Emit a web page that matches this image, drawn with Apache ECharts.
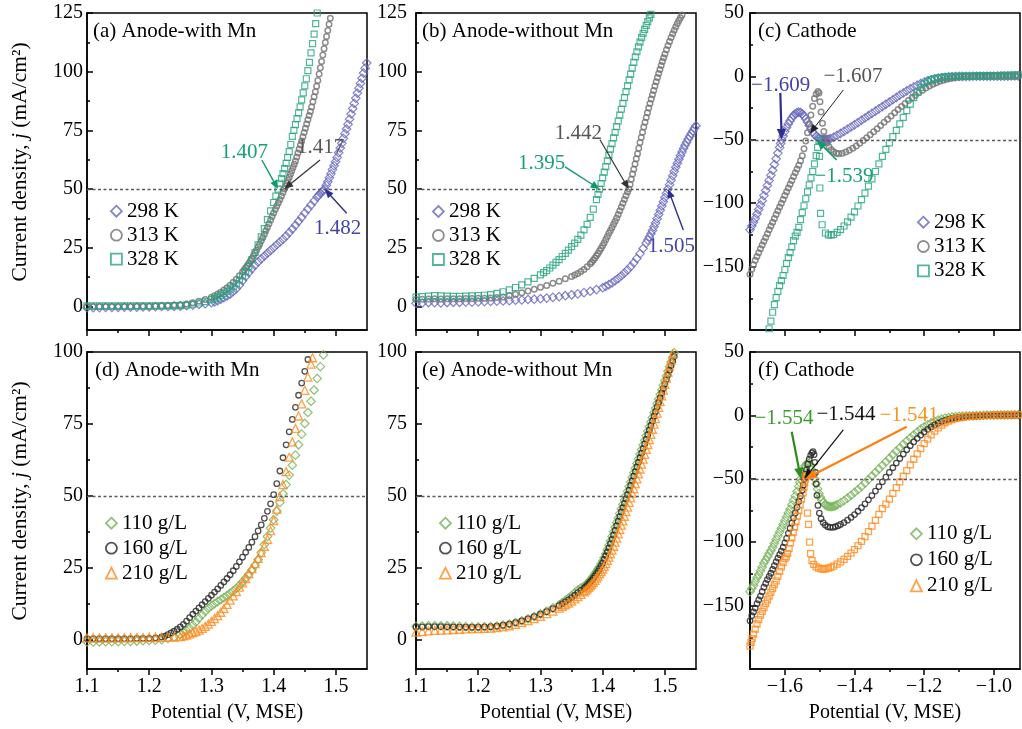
<!DOCTYPE html>
<html>
<head>
<meta charset="utf-8">
<script src="https://cdn.jsdelivr.net/npm/echarts@6/dist/echarts.min.js"></script>
<style>html,body{margin:0;padding:0;background:#fff}#chart{width:1022px;height:729px}</style>
</head>
<body>
<div id="chart"></div>
<script>
// ---------- names and tick values ----------
const PANEL_TITLES = ['(a) Anode-with Mn', '(b) Anode-without Mn', '(c) Cathode',
                      '(d) Anode-with Mn', '(e) Anode-without Mn', '(f) Cathode'];
const TEMPS = ['298 K', '313 K', '328 K'];
const CONCS = ['110 g/L', '160 g/L', '210 g/L'];

const ANODE_X_TICKS = [1.1, 1.2, 1.3, 1.4, 1.5];
const ANODE_X_MINOR = [1.15, 1.25, 1.35, 1.45];
const CATHODE_X_TICKS = [-1.6, -1.4, -1.2, -1.0];
const CATHODE_X_MINOR = [-1.5, -1.3, -1.1];
const TOP_Y_TICKS = [0, 25, 50, 75, 100, 125];
const TOP_Y_MINOR = [12.5, 37.5, 62.5, 87.5, 112.5];
const BOTTOM_Y_TICKS = [0, 25, 50, 75, 100];
const BOTTOM_Y_MINOR = [12.5, 37.5, 62.5, 87.5];
const CATHODE_Y_TICKS = [-150, -100, -50, 0, 50];
const CATHODE_Y_MINOR = [-175, -125, -75, -25, 25];

// ---------- polarization data: [potential (V, MSE), current density (mA/cm2)] ----------
// (a) anode with Mn, temperature series
const a298 = [[1.10,-0.5],[1.11,-0.5],[1.12,-0.5],[1.13,-0.4],[1.14,-0.4],[1.15,-0.4],[1.16,-0.3],[1.17,-0.3],[1.18,-0.3],[1.19,-0.2],[1.20,-0.2],[1.21,-0.1],[1.22,0],[1.23,0],[1.24,0.1],[1.25,0.2],[1.26,0.4],[1.27,0.6],[1.28,0.9],[1.29,1.2],[1.30,1.6],[1.305,2.0],[1.31,2.5],[1.315,3.1],[1.32,3.8],[1.325,4.5],[1.33,5.3],[1.335,6.4],[1.34,7.6],[1.345,9.2],[1.35,11],[1.355,12.8],[1.36,14.5],[1.365,16.1],[1.37,17.6],[1.375,19],[1.38,20.3],[1.385,21.5],[1.39,22.7],[1.395,23.9],[1.40,25.1],[1.405,26.3],[1.41,27.5],[1.415,28.7],[1.42,30],[1.425,31.5],[1.43,33],[1.435,34.6],[1.44,36.3],[1.445,38],[1.45,39.8],[1.455,41.5],[1.46,43.2],[1.465,44.9],[1.47,46.6],[1.4725,47.4],[1.475,48.2],[1.4775,48.9],[1.48,49.5],[1.482,50],[1.4845,51.6],[1.487,53.1],[1.4895,54.8],[1.492,56.5],[1.4945,58.3],[1.497,60],[1.4995,61.7],[1.502,63.5],[1.5045,65.5],[1.507,67.5],[1.5095,69.5],[1.512,71.6],[1.5145,73.6],[1.517,75.6],[1.5195,77.6],[1.522,79.8],[1.5245,82],[1.527,84.3],[1.5295,86.5],[1.532,88.7],[1.5345,90.9],[1.537,93],[1.5395,95],[1.542,97.2],[1.5445,99.4],[1.547,101.5],[1.5495,103.7]];
const a313 = [[1.10,0],[1.11,0],[1.12,0],[1.13,0],[1.14,0],[1.15,0],[1.16,0],[1.17,0],[1.18,0.1],[1.19,0.1],[1.20,0.1],[1.21,0.2],[1.22,0.3],[1.23,0.4],[1.24,0.6],[1.25,0.8],[1.26,1.1],[1.27,1.6],[1.28,2.2],[1.29,3.0],[1.30,4.0],[1.305,4.6],[1.31,5.3],[1.315,6.1],[1.32,7.0],[1.325,8.0],[1.33,9.1],[1.335,10.3],[1.34,11.6],[1.345,13.1],[1.35,14.7],[1.3525,15.6],[1.355,16.5],[1.3575,17.4],[1.36,18.4],[1.3625,19.4],[1.365,20.5],[1.3675,21.6],[1.37,22.8],[1.3725,24],[1.375,25.3],[1.3775,26.6],[1.38,28],[1.3825,29.4],[1.385,30.8],[1.3875,32.3],[1.39,33.8],[1.3925,35.3],[1.395,36.8],[1.3975,38.3],[1.40,39.8],[1.4025,41.3],[1.405,42.8],[1.4075,44.2],[1.41,45.6],[1.4125,47.1],[1.415,48.6],[1.417,50],[1.419,51.2],[1.421,52.5],[1.423,53.8],[1.425,55],[1.427,56.4],[1.429,57.8],[1.431,59.2],[1.433,60.6],[1.435,62],[1.437,63.7],[1.439,65.4],[1.441,67.1],[1.443,68.8],[1.445,70.5],[1.447,72.3],[1.449,74.1],[1.451,75.9],[1.453,77.7],[1.455,79.5],[1.457,81.3],[1.459,83.1],[1.461,85],[1.463,87.2],[1.465,89.3],[1.467,91.5],[1.469,93.8],[1.471,96.3],[1.473,99],[1.475,101.7],[1.477,104.3],[1.479,107.1],[1.481,109.8],[1.483,112.4],[1.485,115],[1.487,117.6],[1.489,120.2],[1.491,122.8],[1.493,125.4]];
const a328 = [[1.10,0.3],[1.11,0.3],[1.12,0.3],[1.13,0.3],[1.14,0.3],[1.15,0.3],[1.16,0.3],[1.17,0.3],[1.18,0.3],[1.19,0.3],[1.20,0.3],[1.21,0.3],[1.22,0.3],[1.23,0.3],[1.24,0.4],[1.25,0.4],[1.26,0.6],[1.27,1.0],[1.28,1.5],[1.29,2.1],[1.30,2.9],[1.305,3.4],[1.31,4.0],[1.315,4.7],[1.32,5.5],[1.325,6.4],[1.33,7.4],[1.335,8.5],[1.34,9.8],[1.345,11.3],[1.35,13],[1.355,14.9],[1.36,17],[1.365,20],[1.37,23],[1.375,26.3],[1.38,29.7],[1.385,33.2],[1.39,37],[1.395,40.7],[1.40,44.3],[1.4035,47],[1.407,50],[1.41,52.5],[1.4125,54.5],[1.415,56.6],[1.4175,58.7],[1.42,61],[1.4225,63.5],[1.425,66],[1.4275,69],[1.43,72.5],[1.4325,75],[1.435,77.5],[1.4375,80],[1.44,82.5],[1.4425,85],[1.445,88],[1.4475,91],[1.45,94],[1.4525,97],[1.455,100.5],[1.4575,104],[1.46,108],[1.4625,112],[1.465,116],[1.4675,120.5],[1.47,125]];
// (b) anode without Mn, temperature series
const b298 = [[1.10,1.4],[1.11,1.5],[1.12,1.7],[1.13,1.6],[1.14,1.5],[1.15,1.7],[1.16,1.8],[1.17,1.8],[1.18,1.9],[1.19,1.9],[1.20,2.0],[1.21,2.1],[1.22,2.2],[1.23,2.3],[1.24,2.4],[1.25,2.5],[1.26,2.7],[1.27,2.8],[1.28,3.0],[1.29,3.1],[1.30,3.3],[1.31,3.6],[1.32,3.9],[1.33,4.2],[1.34,4.6],[1.35,5.0],[1.36,5.4],[1.37,5.9],[1.38,6.5],[1.39,7.2],[1.40,8.0],[1.405,8.6],[1.41,9.3],[1.415,10.1],[1.42,11],[1.425,12],[1.43,13.1],[1.435,14.3],[1.44,15.6],[1.445,17],[1.45,18.6],[1.455,20.5],[1.46,22.5],[1.465,24.7],[1.47,27],[1.4725,28.3],[1.475,29.6],[1.4775,31],[1.48,32.4],[1.4825,34],[1.485,35.6],[1.4875,37.4],[1.49,39.2],[1.4925,41],[1.495,42.8],[1.4975,44.6],[1.50,46.4],[1.5025,48.2],[1.505,50],[1.5075,51.9],[1.51,53.8],[1.5125,55.7],[1.515,57.5],[1.5175,59.3],[1.52,61],[1.5225,62.7],[1.525,64.3],[1.5275,65.8],[1.53,67.3],[1.5325,68.7],[1.535,70],[1.5375,71.3],[1.54,72.5],[1.5425,73.7],[1.545,74.8],[1.5475,75.9],[1.55,77]];
const b313 = [[1.10,3.0],[1.11,3.1],[1.12,3.2],[1.13,3.3],[1.14,3.2],[1.15,3.3],[1.16,3.3],[1.17,3.3],[1.18,3.4],[1.19,3.4],[1.20,3.5],[1.21,3.5],[1.22,3.6],[1.23,3.8],[1.24,4.1],[1.25,4.6],[1.26,5.2],[1.27,5.9],[1.28,6.6],[1.29,7.4],[1.30,8.2],[1.31,9.0],[1.32,9.9],[1.33,10.8],[1.34,11.8],[1.35,12.8],[1.355,13.4],[1.36,14.1],[1.365,14.9],[1.37,15.8],[1.375,16.9],[1.38,18.2],[1.3825,19],[1.385,19.8],[1.3875,20.7],[1.39,21.6],[1.3925,22.6],[1.395,23.7],[1.3975,24.8],[1.40,26],[1.4025,27.2],[1.405,28.5],[1.4075,29.8],[1.41,31.2],[1.4125,32.4],[1.415,33.7],[1.4175,35],[1.42,36.3],[1.4225,37.7],[1.425,39.2],[1.4275,40.8],[1.43,42.4],[1.4325,44],[1.435,45.6],[1.4375,47.2],[1.44,48.8],[1.442,50],[1.444,52],[1.446,54.2],[1.448,56.4],[1.45,58.5],[1.452,60.7],[1.454,62.9],[1.456,65.1],[1.458,67.4],[1.46,69.8],[1.462,72],[1.464,74.2],[1.466,76.4],[1.468,78.5],[1.47,80.5],[1.472,82.5],[1.474,84.5],[1.476,86.5],[1.478,88.4],[1.48,90.2],[1.482,92],[1.484,93.9],[1.486,95.7],[1.488,97.5],[1.49,99.2],[1.492,100.9],[1.494,102.6],[1.496,104.3],[1.498,105.9],[1.50,107.5],[1.5025,109.4],[1.505,111.2],[1.5075,112.9],[1.51,114.6],[1.5125,116.2],[1.515,117.7],[1.5175,119.1],[1.52,120.5],[1.5225,121.8],[1.525,123],[1.5275,124.2],[1.53,125.3]];
const b328 = [[1.10,4.0],[1.11,4.2],[1.12,4.4],[1.13,4.6],[1.14,4.5],[1.15,4.4],[1.16,4.3],[1.17,4.3],[1.18,4.4],[1.19,4.5],[1.20,4.6],[1.21,4.8],[1.22,5.1],[1.23,5.6],[1.24,6.3],[1.25,7.1],[1.26,8.1],[1.27,9.2],[1.28,10.5],[1.29,12],[1.30,13.5],[1.305,14.4],[1.31,15.3],[1.315,16.4],[1.32,17.6],[1.325,18.8],[1.33,20],[1.335,21.3],[1.34,22.6],[1.345,24],[1.35,25.5],[1.355,27],[1.36,28.6],[1.365,30.4],[1.37,32.6],[1.375,35],[1.38,38],[1.385,41.5],[1.39,45.5],[1.3925,47.7],[1.395,50],[1.3975,52.4],[1.40,54.8],[1.4025,57.2],[1.405,59.6],[1.4075,62],[1.41,64.5],[1.4125,67],[1.415,69.4],[1.4175,71.8],[1.42,74.2],[1.4225,76.6],[1.425,79],[1.4275,81.5],[1.43,84],[1.4325,86.5],[1.435,89],[1.4375,91.5],[1.44,94],[1.4425,96.5],[1.445,99],[1.4475,101.5],[1.45,104],[1.4525,106.3],[1.455,108.5],[1.4575,110.6],[1.46,112.6],[1.4625,114.5],[1.465,116.3],[1.4675,118],[1.47,119.7],[1.4725,121.3],[1.475,122.9],[1.4775,124.4],[1.48,126]];
// (c) cathode, temperature series
const c298 = [[-1.70,-121],[-1.695,-118],[-1.69,-115],[-1.685,-112],[-1.68,-108.5],[-1.675,-105],[-1.67,-101.5],[-1.665,-98],[-1.66,-94],[-1.655,-90],[-1.65,-86],[-1.645,-82],[-1.64,-78],[-1.635,-74],[-1.63,-69.5],[-1.625,-65],[-1.62,-60.5],[-1.615,-56],[-1.612,-53],[-1.609,-50],[-1.605,-47],[-1.60,-43.5],[-1.595,-40.3],[-1.59,-37.5],[-1.585,-35],[-1.58,-32.8],[-1.575,-30.8],[-1.57,-29.5],[-1.565,-28.6],[-1.56,-28.2],[-1.555,-28.5],[-1.55,-29.5],[-1.545,-31.2],[-1.54,-33.5],[-1.535,-36],[-1.53,-38.8],[-1.525,-41.5],[-1.52,-43.8],[-1.515,-45.7],[-1.51,-47.2],[-1.505,-48.3],[-1.50,-49.1],[-1.495,-49.6],[-1.49,-49.9],[-1.485,-50],[-1.48,-49.9],[-1.475,-49.6],[-1.47,-49.2],[-1.46,-48],[-1.45,-46.5],[-1.44,-45],[-1.43,-43.3],[-1.42,-41.6],[-1.41,-39.9],[-1.40,-38.2],[-1.39,-36.4],[-1.38,-34.6],[-1.37,-32.8],[-1.36,-31],[-1.35,-29.2],[-1.34,-27.4],[-1.33,-25.6],[-1.32,-23.8],[-1.31,-22],[-1.30,-20.2],[-1.29,-18.4],[-1.28,-16.6],[-1.27,-14.8],[-1.26,-13.1],[-1.25,-11.4],[-1.24,-9.8],[-1.23,-8.3],[-1.22,-6.9],[-1.21,-5.6],[-1.20,-4.5],[-1.19,-3.5],[-1.18,-2.7],[-1.17,-2],[-1.16,-1.4],[-1.15,-1],[-1.14,-0.7],[-1.13,-0.4],[-1.12,-0.2],[-1.11,-0.1],[-1.10,0],[-1.09,0],[-1.08,0],[-1.07,0],[-1.06,0.1],[-1.05,0.1],[-1.04,0.1],[-1.03,0.1],[-1.02,0.1],[-1.01,0.2],[-1.00,0.2],[-0.99,0.2],[-0.98,0.2],[-0.97,0.2],[-0.96,0.2],[-0.95,0.3],[-0.94,0.3],[-0.93,0.3]];
const c313 = [[-1.70,-156],[-1.695,-152],[-1.69,-148.5],[-1.685,-145],[-1.68,-142],[-1.675,-139],[-1.67,-136],[-1.665,-133],[-1.66,-130],[-1.655,-127],[-1.65,-124],[-1.645,-121],[-1.64,-118],[-1.635,-115],[-1.63,-112],[-1.625,-109],[-1.62,-106],[-1.615,-103],[-1.61,-100],[-1.605,-97],[-1.60,-94],[-1.595,-91],[-1.59,-88],[-1.585,-85],[-1.58,-82],[-1.575,-79],[-1.57,-76],[-1.565,-73],[-1.56,-70],[-1.555,-66.5],[-1.55,-62.5],[-1.545,-57],[-1.54,-51],[-1.535,-44.5],[-1.53,-37.5],[-1.525,-30.5],[-1.52,-23.5],[-1.515,-17.5],[-1.51,-13.8],[-1.505,-12],[-1.502,-13],[-1.499,-20],[-1.496,-28],[-1.492,-37],[-1.488,-43.5],[-1.484,-48.5],[-1.479,-52.5],[-1.473,-55.5],[-1.467,-57.8],[-1.46,-59.5],[-1.452,-60.6],[-1.445,-61],[-1.435,-60.6],[-1.425,-59.6],[-1.415,-58.2],[-1.405,-56.6],[-1.395,-54.8],[-1.385,-52.8],[-1.375,-50.6],[-1.365,-48.3],[-1.355,-46],[-1.345,-43.6],[-1.335,-41.2],[-1.325,-38.7],[-1.315,-36.2],[-1.305,-33.7],[-1.295,-31.2],[-1.285,-28.7],[-1.275,-26.2],[-1.265,-23.8],[-1.255,-21.4],[-1.245,-19.1],[-1.235,-16.9],[-1.225,-14.8],[-1.215,-12.8],[-1.205,-10.9],[-1.195,-9.2],[-1.185,-7.6],[-1.175,-6.2],[-1.165,-5],[-1.155,-3.9],[-1.145,-3],[-1.135,-2.2],[-1.125,-1.6],[-1.115,-1.1],[-1.105,-0.7],[-1.095,-0.4],[-1.085,-0.2],[-1.075,0],[-1.065,0],[-1.055,0.1],[-1.045,0.1],[-1.035,0.1],[-1.025,0.1],[-1.015,0.1],[-1.005,0.2],[-0.995,0.2],[-0.985,0.2],[-0.975,0.2],[-0.965,0.2],[-0.955,0.2],[-0.945,0.2],[-0.935,0.2]];
const c328 = [[-1.65,-205],[-1.645,-199],[-1.64,-193],[-1.635,-186],[-1.63,-180],[-1.625,-174.5],[-1.62,-169.5],[-1.615,-165],[-1.61,-161],[-1.605,-157],[-1.60,-152.5],[-1.595,-147.5],[-1.59,-143],[-1.585,-139],[-1.58,-134.5],[-1.575,-129.5],[-1.57,-126],[-1.565,-123],[-1.56,-119],[-1.555,-113],[-1.55,-107.5],[-1.545,-102],[-1.54,-96.5],[-1.535,-91],[-1.53,-85.5],[-1.525,-80],[-1.52,-75],[-1.515,-69],[-1.51,-62.5],[-1.506,-56],[-1.502,-50.5],[-1.5005,-63],[-1.4995,-88],[-1.4975,-108],[-1.493,-117],[-1.4835,-123.5],[-1.475,-125],[-1.467,-125.2],[-1.46,-124.7],[-1.45,-123],[-1.44,-120.8],[-1.43,-118],[-1.42,-114.8],[-1.41,-111],[-1.40,-106.8],[-1.39,-102.2],[-1.38,-97.2],[-1.37,-92],[-1.36,-86.5],[-1.35,-80.8],[-1.34,-75],[-1.33,-69],[-1.32,-63],[-1.31,-57.5],[-1.30,-52.5],[-1.29,-47.5],[-1.28,-42.5],[-1.27,-37.5],[-1.26,-32.3],[-1.25,-27],[-1.24,-21.8],[-1.23,-16.8],[-1.22,-12.3],[-1.21,-8.6],[-1.20,-5.8],[-1.19,-3.9],[-1.18,-2.6],[-1.17,-1.7],[-1.16,-1.1],[-1.15,-0.7],[-1.14,-0.4],[-1.13,-0.2],[-1.12,0],[-1.11,0.1],[-1.10,0.1],[-1.09,0.2],[-1.08,0.2],[-1.07,0.3],[-1.06,0.3],[-1.05,0.4],[-1.04,0.4],[-1.03,0.5],[-1.02,0.5],[-1.01,0.6],[-1.00,0.6],[-0.99,0.7],[-0.98,0.8],[-0.97,0.8],[-0.96,0.9],[-0.95,1],[-0.94,1.1],[-0.93,1.2]];
// (d) anode with Mn, Zn2+ concentration series
const d110 = [[1.10,-0.6],[1.11,-0.6],[1.12,-0.6],[1.13,-0.5],[1.14,-0.5],[1.15,-0.5],[1.16,-0.4],[1.17,-0.4],[1.18,-0.3],[1.19,-0.2],[1.20,-0.1],[1.21,0],[1.22,0.2],[1.23,0.6],[1.24,1.1],[1.25,2],[1.255,2.7],[1.26,3.3],[1.265,4.2],[1.27,5.2],[1.275,6.3],[1.28,7.6],[1.285,8.8],[1.29,10],[1.295,11],[1.30,11.9],[1.305,12.7],[1.31,13.4],[1.315,14.1],[1.32,14.8],[1.325,15.5],[1.33,16.3],[1.335,17.1],[1.34,18],[1.345,19],[1.35,20.2],[1.355,21.5],[1.36,22.9],[1.365,24.4],[1.37,26],[1.375,28],[1.38,30.4],[1.385,33.2],[1.39,36],[1.395,38.9],[1.40,41.8],[1.405,44.8],[1.41,47.8],[1.415,50.8],[1.42,54],[1.425,57.3],[1.43,60.7],[1.435,64.2],[1.44,67.8],[1.445,71.5],[1.45,75.2],[1.455,79],[1.46,82.9],[1.465,86.8],[1.47,90.8],[1.475,94.9],[1.48,99],[1.485,103]];
const d160 = [[1.10,0.5],[1.11,0.5],[1.12,0.5],[1.13,0.5],[1.14,0.5],[1.15,0.5],[1.16,0.5],[1.17,0.5],[1.18,0.6],[1.19,0.6],[1.20,0.6],[1.21,0.8],[1.22,1.1],[1.225,1.4],[1.23,1.9],[1.235,2.5],[1.24,3.1],[1.245,3.8],[1.25,4.6],[1.255,5.5],[1.26,6.6],[1.265,7.8],[1.27,9],[1.275,10.1],[1.28,11.2],[1.285,12.3],[1.29,13.4],[1.295,14.5],[1.30,15.6],[1.305,16.7],[1.31,17.8],[1.315,19],[1.32,20.2],[1.325,21.4],[1.33,22.7],[1.335,24.1],[1.34,25.6],[1.345,27.2],[1.35,28.8],[1.355,30.5],[1.36,32.2],[1.365,34],[1.37,35.9],[1.375,37.9],[1.38,40],[1.385,42.3],[1.39,44.7],[1.395,47.3],[1.40,50.5],[1.405,54.3],[1.41,58.7],[1.415,63.3],[1.42,67.8],[1.425,72.3],[1.43,76.6],[1.435,80.8],[1.44,85],[1.445,89.2],[1.45,93.3],[1.455,97.4],[1.46,101.5]];
const d210 = [[1.10,0.8],[1.11,0.8],[1.12,0.8],[1.13,0.8],[1.14,0.8],[1.15,0.8],[1.16,0.9],[1.17,0.9],[1.18,0.9],[1.19,0.9],[1.20,1.0],[1.21,1.0],[1.22,1.0],[1.23,1.1],[1.24,1.1],[1.25,1.2],[1.255,1.5],[1.26,1.8],[1.265,2.2],[1.27,2.6],[1.275,3.0],[1.28,3.5],[1.285,4.1],[1.29,4.8],[1.295,5.6],[1.30,6.5],[1.305,7.5],[1.31,8.5],[1.315,9.7],[1.32,11],[1.325,12.4],[1.33,13.9],[1.335,15.4],[1.34,16.9],[1.345,18.4],[1.35,19.9],[1.355,21.4],[1.36,23],[1.365,24.8],[1.37,26.6],[1.375,28.4],[1.38,30.4],[1.385,32.6],[1.39,35],[1.395,38],[1.40,41.5],[1.405,45.5],[1.41,49.8],[1.415,54],[1.42,58.5],[1.425,63.5],[1.43,68.8],[1.435,73.5],[1.44,77.8],[1.445,82],[1.45,86.7],[1.455,91.3],[1.46,95.8],[1.4625,98]];
// (e) anode without Mn, Zn2+ concentration series
const e110 = [[1.10,4.8],[1.11,4.9],[1.12,5.0],[1.13,5.0],[1.14,5.0],[1.15,5.0],[1.16,4.9],[1.17,4.8],[1.18,4.7],[1.19,4.6],[1.20,4.6],[1.21,4.6],[1.22,4.7],[1.23,4.9],[1.24,5.2],[1.25,5.6],[1.26,6.1],[1.27,6.7],[1.28,7.4],[1.29,8.2],[1.30,9.1],[1.31,10.1],[1.32,11.2],[1.33,12.3],[1.335,13],[1.34,13.8],[1.345,14.6],[1.35,15.5],[1.355,16.4],[1.36,17.4],[1.365,18.1],[1.37,18.6],[1.3725,19.1],[1.375,19.6],[1.3775,20.2],[1.38,20.8],[1.3825,21.5],[1.385,22.2],[1.3875,23],[1.39,23.8],[1.3925,24.7],[1.395,25.5],[1.3975,26.5],[1.40,27.5],[1.4025,28.7],[1.405,30],[1.4075,31.4],[1.41,32.9],[1.4125,34.4],[1.415,36],[1.4175,37.6],[1.42,39.2],[1.4225,40.8],[1.425,42.4],[1.4275,44],[1.43,45.6],[1.4325,47.1],[1.435,48.6],[1.4375,50.1],[1.44,51.7],[1.4425,53.3],[1.445,54.9],[1.4475,56.5],[1.45,58.1],[1.4525,59.7],[1.455,61.3],[1.4575,62.9],[1.46,64.5],[1.4625,66.1],[1.465,67.7],[1.4675,69.3],[1.47,70.9],[1.4725,72.5],[1.475,74.1],[1.4775,75.7],[1.48,77.3],[1.4825,78.9],[1.485,80.5],[1.4875,82.1],[1.49,83.7],[1.4925,85.3],[1.495,86.9],[1.4975,88.5],[1.50,90.1],[1.5025,91.7],[1.505,93.3],[1.5075,94.9],[1.51,96.5],[1.5125,98.1],[1.515,99.7],[1.5175,101.3]];
const e160 = [[1.10,4.5],[1.11,4.6],[1.12,4.7],[1.13,4.7],[1.14,4.7],[1.15,4.6],[1.16,4.6],[1.17,4.5],[1.18,4.5],[1.19,4.5],[1.20,4.5],[1.21,4.6],[1.22,4.7],[1.23,4.9],[1.24,5.2],[1.25,5.6],[1.26,6.1],[1.27,6.7],[1.28,7.4],[1.29,8.2],[1.30,9.0],[1.31,9.9],[1.32,10.9],[1.33,12],[1.335,12.6],[1.34,13.3],[1.345,14],[1.35,14.8],[1.355,15.6],[1.36,16.5],[1.365,17.3],[1.37,18],[1.3725,18.5],[1.375,19],[1.3775,19.6],[1.38,20.2],[1.3825,20.8],[1.385,21.5],[1.3875,22.3],[1.39,23.1],[1.3925,23.9],[1.395,24.8],[1.3975,25.8],[1.40,26.8],[1.4025,28],[1.405,29.3],[1.4075,30.6],[1.41,32],[1.4125,33.5],[1.415,35],[1.4175,36.5],[1.42,38.1],[1.4225,39.7],[1.425,41.3],[1.4275,42.9],[1.43,44.5],[1.4325,46],[1.435,47.5],[1.4375,49],[1.44,50.5],[1.4425,52.1],[1.445,53.7],[1.4475,55.3],[1.45,56.9],[1.4525,58.5],[1.455,60.1],[1.4575,61.7],[1.46,63.3],[1.4625,64.9],[1.465,66.5],[1.4675,68.1],[1.47,69.7],[1.4725,71.3],[1.475,72.9],[1.4775,74.5],[1.48,76.1],[1.4825,77.7],[1.485,79.3],[1.4875,80.9],[1.49,82.5],[1.4925,84.1],[1.495,85.7],[1.4975,87.3],[1.50,88.9],[1.5025,90.5],[1.505,92.1],[1.5075,93.7],[1.51,95.3],[1.5125,96.9],[1.515,98.5],[1.5175,100.1],[1.52,101.7]];
const e210 = [[1.10,2.8],[1.11,3.0],[1.12,3.2],[1.13,3.4],[1.14,3.5],[1.15,3.6],[1.16,3.7],[1.17,3.8],[1.18,3.9],[1.19,4.0],[1.20,4.0],[1.21,4.1],[1.22,4.2],[1.23,4.4],[1.24,4.6],[1.25,5.0],[1.26,5.5],[1.27,6.1],[1.28,6.8],[1.29,7.5],[1.30,8.3],[1.31,9.2],[1.32,10.1],[1.33,11.1],[1.335,11.7],[1.34,12.3],[1.345,12.9],[1.35,13.6],[1.355,14.3],[1.36,15.1],[1.365,15.9],[1.37,16.8],[1.3725,17.3],[1.375,17.8],[1.3775,18.3],[1.38,18.9],[1.3825,19.5],[1.385,20.1],[1.3875,20.8],[1.39,21.5],[1.3925,22.2],[1.395,23],[1.3975,23.8],[1.40,24.7],[1.4025,25.6],[1.405,26.6],[1.4075,27.7],[1.41,28.8],[1.4125,30],[1.415,31.3],[1.4175,32.6],[1.42,34],[1.4225,35.4],[1.425,36.9],[1.4275,38.4],[1.43,39.9],[1.4325,41.4],[1.435,43],[1.4375,44.6],[1.44,46.2],[1.4425,47.8],[1.445,49.4],[1.4475,51],[1.45,52.6],[1.4525,54.3],[1.455,56],[1.4575,57.7],[1.46,59.4],[1.4625,61.1],[1.465,62.8],[1.4675,64.5],[1.47,66.2],[1.4725,67.9],[1.475,69.6],[1.4775,71.4],[1.48,73.2],[1.4825,75],[1.485,76.9],[1.4875,78.8],[1.49,80.8],[1.4925,82.8],[1.495,84.8],[1.4975,86.8],[1.50,88.8],[1.5025,90.9],[1.505,93],[1.5075,95.1],[1.51,97.2],[1.5125,99.3],[1.515,101.4]];
// (f) cathode, Zn2+ concentration series
const f110 = [[-1.70,-139],[-1.695,-136.5],[-1.69,-134],[-1.685,-131],[-1.68,-128],[-1.675,-125.5],[-1.67,-122.5],[-1.665,-119.5],[-1.66,-116.5],[-1.655,-114],[-1.65,-111.5],[-1.645,-109],[-1.64,-106.5],[-1.635,-104],[-1.63,-101],[-1.625,-98],[-1.62,-95],[-1.615,-92],[-1.61,-89],[-1.605,-86],[-1.60,-83],[-1.595,-80],[-1.59,-77],[-1.585,-74],[-1.58,-70.5],[-1.575,-67],[-1.57,-63.5],[-1.565,-60],[-1.56,-56],[-1.557,-53],[-1.554,-50],[-1.55,-46],[-1.546,-42.5],[-1.542,-40],[-1.538,-38.5],[-1.534,-37.5],[-1.53,-38],[-1.526,-40],[-1.522,-43],[-1.518,-46.5],[-1.514,-50],[-1.51,-54],[-1.506,-58],[-1.502,-61.5],[-1.498,-64.5],[-1.494,-67],[-1.49,-68.8],[-1.485,-70.3],[-1.48,-71.2],[-1.475,-71.8],[-1.47,-72],[-1.465,-72],[-1.46,-71.7],[-1.455,-71.2],[-1.45,-70.5],[-1.44,-69],[-1.43,-67.2],[-1.42,-65.2],[-1.41,-63],[-1.40,-60.8],[-1.39,-58.5],[-1.38,-56],[-1.37,-53.4],[-1.36,-50.6],[-1.35,-47.8],[-1.34,-45],[-1.33,-42.2],[-1.32,-39.4],[-1.31,-36.6],[-1.30,-33.8],[-1.29,-31],[-1.28,-28.2],[-1.27,-25.5],[-1.26,-22.8],[-1.25,-20.2],[-1.24,-17.7],[-1.23,-15.3],[-1.22,-13],[-1.21,-10.9],[-1.20,-9],[-1.19,-7.3],[-1.18,-5.9],[-1.17,-4.7],[-1.16,-3.7],[-1.15,-2.9],[-1.14,-2.2],[-1.13,-1.7],[-1.12,-1.3],[-1.11,-1],[-1.10,-0.8],[-1.09,-0.6],[-1.08,-0.5],[-1.07,-0.4],[-1.06,-0.3],[-1.05,-0.2],[-1.04,-0.1],[-1.03,0],[-1.02,0.1],[-1.01,0.1],[-1.00,0.2],[-0.99,0.2],[-0.98,0.3],[-0.97,0.3],[-0.96,0.4],[-0.95,0.4],[-0.94,0.5],[-0.93,0.6]];
const f160 = [[-1.70,-162],[-1.695,-158],[-1.69,-155],[-1.685,-152],[-1.68,-148.5],[-1.675,-145.5],[-1.67,-142.5],[-1.665,-139],[-1.66,-135.5],[-1.655,-132.5],[-1.65,-129.5],[-1.645,-127],[-1.64,-124.5],[-1.635,-121.5],[-1.63,-118.5],[-1.625,-115.5],[-1.62,-112.5],[-1.615,-109.8],[-1.61,-107],[-1.605,-104],[-1.60,-100.5],[-1.595,-97],[-1.59,-93],[-1.585,-89],[-1.58,-85],[-1.575,-81],[-1.57,-77],[-1.565,-72.5],[-1.56,-68],[-1.555,-63.5],[-1.55,-59],[-1.547,-55],[-1.544,-50],[-1.541,-46.5],[-1.538,-43],[-1.534,-38.5],[-1.53,-34.5],[-1.526,-31.5],[-1.522,-29.5],[-1.519,-28.5],[-1.516,-31],[-1.514,-37],[-1.512,-45],[-1.51,-54],[-1.508,-63],[-1.505,-71],[-1.501,-77],[-1.496,-81.5],[-1.49,-84.5],[-1.484,-86.5],[-1.477,-87.8],[-1.47,-88.3],[-1.462,-88.3],[-1.455,-87.8],[-1.447,-87],[-1.44,-86],[-1.43,-84.5],[-1.42,-82.6],[-1.41,-80.5],[-1.40,-78.2],[-1.39,-75.6],[-1.38,-72.8],[-1.37,-69.8],[-1.36,-66.6],[-1.35,-63.2],[-1.34,-59.7],[-1.33,-56.1],[-1.32,-52.4],[-1.31,-48.7],[-1.30,-45],[-1.29,-41.3],[-1.28,-37.6],[-1.27,-34],[-1.26,-30.5],[-1.25,-27.1],[-1.24,-23.9],[-1.23,-20.9],[-1.22,-18.1],[-1.21,-15.5],[-1.20,-13.1],[-1.19,-11],[-1.18,-9.1],[-1.17,-7.5],[-1.16,-6.1],[-1.15,-4.9],[-1.14,-3.9],[-1.13,-3.1],[-1.12,-2.5],[-1.11,-2],[-1.10,-1.6],[-1.09,-1.3],[-1.08,-1],[-1.07,-0.8],[-1.06,-0.6],[-1.05,-0.4],[-1.04,-0.3],[-1.03,-0.2],[-1.02,-0.1],[-1.01,0],[-1.00,0],[-0.99,0.1],[-0.98,0.1],[-0.97,0.1],[-0.96,0.2],[-0.95,0.2],[-0.94,0.2],[-0.93,0.3]];
const f210 = [[-1.70,-182],[-1.697,-179],[-1.694,-176],[-1.69,-172.5],[-1.685,-168.5],[-1.68,-164.5],[-1.675,-161],[-1.67,-157.5],[-1.665,-154.5],[-1.66,-151.5],[-1.655,-148.5],[-1.65,-145.5],[-1.645,-142.5],[-1.64,-139.5],[-1.635,-136.5],[-1.63,-133.5],[-1.625,-130.5],[-1.62,-127],[-1.615,-123],[-1.61,-119.5],[-1.605,-116],[-1.60,-113],[-1.596,-111.5],[-1.592,-109],[-1.588,-105],[-1.584,-100.5],[-1.58,-96.5],[-1.576,-92.5],[-1.572,-88],[-1.568,-84],[-1.564,-79.5],[-1.56,-75],[-1.556,-70.5],[-1.552,-66],[-1.548,-61],[-1.545,-56.5],[-1.543,-53],[-1.541,-50],[-1.539,-48],[-1.537,-47.5],[-1.535,-77],[-1.532,-86],[-1.529,-100],[-1.526,-109],[-1.522,-114.5],[-1.517,-117.5],[-1.51,-119.5],[-1.503,-120.5],[-1.496,-121],[-1.489,-121.2],[-1.482,-121],[-1.475,-120.5],[-1.468,-119.8],[-1.46,-118.8],[-1.45,-117.3],[-1.44,-115.5],[-1.43,-113.5],[-1.42,-111.2],[-1.41,-108.6],[-1.40,-105.8],[-1.39,-102.7],[-1.38,-99.3],[-1.37,-95.6],[-1.36,-91.6],[-1.35,-87.3],[-1.34,-82.8],[-1.33,-78.1],[-1.32,-73.5],[-1.31,-70],[-1.30,-66],[-1.29,-61.5],[-1.28,-57],[-1.27,-52.5],[-1.26,-48],[-1.25,-43.5],[-1.24,-39],[-1.23,-34.6],[-1.22,-30.3],[-1.21,-26.2],[-1.20,-22.3],[-1.19,-18.7],[-1.18,-15.4],[-1.17,-12.4],[-1.16,-9.8],[-1.15,-7.6],[-1.14,-5.8],[-1.13,-4.4],[-1.12,-3.3],[-1.11,-2.5],[-1.10,-1.9],[-1.09,-1.4],[-1.08,-1],[-1.07,-0.7],[-1.06,-0.5],[-1.05,-0.3],[-1.04,-0.2],[-1.03,-0.1],[-1.02,0],[-1.01,0],[-1.00,0.1],[-0.99,0.1],[-0.98,0.2],[-0.97,0.2],[-0.96,0.3],[-0.95,0.3],[-0.94,0.4],[-0.93,0.5]];

// ---------- styling ----------
const FONT = '"Liberation Serif","Times New Roman",Times,serif';
const INK = '#000';
const MARKERS = {
  '298 K':   {symbol: 'diamond',  size: 8.5, color: '#6767bd', line: 1.2},
  '313 K':   {symbol: 'circle',   size: 5.5, color: '#727272', line: 1.5},
  '328 K':   {symbol: 'rect',     size: 6,   color: '#25a57d', line: 1.2},
  '110 g/L': {symbol: 'diamond',  size: 8.5, color: '#76b257', line: 1.2},
  '160 g/L': {symbol: 'circle',   size: 5.5, color: '#262626', line: 1.3},
  '210 g/L': {symbol: 'triangle', size: 8,   color: '#ff8a1c', line: 1.3}
};
const minus = s => String(s).replace('-', '\u2212');

const X_SCALES = {
  anode:   {min: 1.1,  max: 1.55,   major: ANODE_X_TICKS,   minor: ANODE_X_MINOR,   fmt: v => v.toFixed(1)},
  cathode: {min: -1.7, max: -0.925, major: CATHODE_X_TICKS, minor: CATHODE_X_MINOR, fmt: v => minus(v.toFixed(1))}
};
const Y_SCALES = {
  top:     {min: -10,  max: 125, major: TOP_Y_TICKS,     minor: TOP_Y_MINOR,     ref: 50,  fmt: v => String(v)},
  bottom:  {min: -10,  max: 100, major: BOTTOM_Y_TICKS,  minor: BOTTOM_Y_MINOR,  ref: 50,  fmt: v => String(v)},
  cathode: {min: -200, max: 50,  major: CATHODE_Y_TICKS, minor: CATHODE_Y_MINOR, ref: -50, fmt: v => minus(v)}
};

const PANELS = [
  {grid: {left: 87,  top: 13,  width: 280, height: 317}, x: 'anode',   y: 'top',     names: TEMPS, data: [a298, a313, a328], labelMargin: 4, titleDx: 6},
  {grid: {left: 416, top: 13,  width: 280, height: 317}, x: 'anode',   y: 'top',     names: TEMPS, data: [b298, b313, b328], labelMargin: 9, titleDx: 6},
  {grid: {left: 750, top: 13,  width: 270, height: 317}, x: 'cathode', y: 'cathode', names: TEMPS, data: [c298, c313, c328], labelMargin: 6, titleDx: 8},
  {grid: {left: 87,  top: 352, width: 280, height: 317}, x: 'anode',   y: 'bottom',  names: CONCS, data: [d110, d160, d210], labelMargin: 4, titleDx: 8},
  {grid: {left: 416, top: 352, width: 280, height: 317}, x: 'anode',   y: 'bottom',  names: CONCS, data: [e110, e160, e210], labelMargin: 9, titleDx: 6},
  {grid: {left: 750, top: 352, width: 270, height: 317}, x: 'cathode', y: 'cathode', names: CONCS, data: [f110, f160, f210], labelMargin: 6, titleDx: 8,
   symbolOverride: {'210 g/L': {symbol: 'rect', size: 6}}}
];

// legend boxes: left edge of the icon, centre of the first row, row pitch
const LEGEND_SPOTS = [
  {left: 110, top: 210.7, pitch: 23},
  {left: 432, top: 211,   pitch: 23},
  {left: 917, top: 221.7, pitch: 23.3},
  {left: 105, top: 522.7, pitch: 24},
  {left: 439, top: 522.7, pitch: 24},
  {left: 910, top: 533.3, pitch: 25}
];

// arrowed call-outs, all placed in data coordinates of their panel
const NOTES = [
  {panel: 0, text: '1.407', color: '#16a077', arrow: '#0e9a6c', label: [1.353, 65.4],  tail: [1.381, 62.4],  tip: [1.407, 50], lw: 1.4, head: 9},
  {panel: 0, text: '1.417', color: '#555555', arrow: '#333333', label: [1.4753, 67.9], tail: [1.4745, 62.4], tip: [1.417, 50], lw: 1.2, head: 9},
  {panel: 0, text: '1.482', color: '#4444a6', arrow: '#2f2f8f', label: [1.5026, 33.4], tail: [1.5174, 39.7], tip: [1.482, 50], lw: 1.4, head: 9},
  {panel: 1, text: '1.442', color: '#555555', arrow: '#333333', label: [1.3608, 73.8], tail: [1.3957, 71],   tip: [1.442, 50], lw: 1.2, head: 9},
  {panel: 1, text: '1.395', color: '#16a077', arrow: '#0e9a6c', label: [1.3017, 61],   tail: [1.3395, 59.5], tip: [1.395, 50], lw: 1.4, head: 9},
  {panel: 1, text: '1.505', color: '#4444a6', arrow: '#2f2f8f', label: [1.5106, 25.5], tail: [1.5296, 32.6], tip: [1.505, 50], lw: 1.4, head: 9},
  {panel: 2, text: '\u22121.609', color: '#4444a6', arrow: '#2f2f8f', label: [-1.612, -7],     tail: [-1.613, -13],    tip: [-1.609, -50],    lw: 2.2, head: 11},
  {panel: 2, text: '\u22121.607', color: '#555555', arrow: '#222222', label: [-1.4044, -0.2],  tail: [-1.4322, -10.7], tip: [-1.5278, -44.9], lw: 1,   head: 9},
  {panel: 2, text: '\u22121.539', color: '#16a077', arrow: '#0e9a6c', label: [-1.4302, -79.1], tail: [-1.4512, -65.9], tip: [-1.5086, -50.2], lw: 1.6, head: 10},
  {panel: 5, text: '\u22121.554', color: '#3a9a2c', arrow: '#2e8b1e', label: [-1.6024, -2.3],  tail: [-1.5803, -12.9], tip: [-1.554, -50], lw: 2.2, head: 11},
  {panel: 5, text: '\u22121.544', color: '#111111', arrow: '#111111', label: [-1.4245, 0.4],   tail: [-1.4322, -11.4], tip: [-1.544, -50], lw: 1.2, head: 10},
  {panel: 5, text: '\u22121.541', color: '#f7941d', arrow: '#ff7f0e', label: [-1.2436, 0.3],   tail: [-1.2502, -8.9],  tip: [-1.541, -50], lw: 2.2, head: 11}
];

// ---------- option assembly ----------
const textBase = {fontFamily: FONT, color: INK, fontSize: 20};
const grids = [], xAxes = [], yAxes = [], series = [], titles = [], legends = [];

PANELS.forEach((p, i) => {
  const xs = X_SCALES[p.x], ys = Y_SCALES[p.y];
  const bottomRow = i >= 3, leftCol = i % 3 === 0;
  grids.push(Object.assign({show: true, borderColor: INK, borderWidth: 1.5, backgroundColor: 'transparent'}, p.grid));

  xAxes[i] = {
    type: 'value', gridIndex: i, position: 'bottom', min: xs.min, max: xs.max,
    axisLine: {show: true, onZero: false, lineStyle: {color: INK, width: 1.5}},
    axisTick: {show: true, inside: false, length: 6, customValues: xs.major, lineStyle: {color: INK, width: 1.5}},
    axisLabel: {show: bottomRow, customValues: xs.major, formatter: xs.fmt, margin: 8, ...textBase},
    splitLine: {show: false},
    name: bottomRow ? 'Potential (V, MSE)' : '', nameLocation: 'middle', nameGap: 34,
    nameTextStyle: textBase
  };
  xAxes[i + 6] = {
    type: 'value', gridIndex: i, position: 'bottom', min: xs.min, max: xs.max,
    axisLine: {show: false, onZero: false},
    axisTick: {show: true, inside: false, length: 3, customValues: xs.minor, lineStyle: {color: INK, width: 1.5}},
    axisLabel: {show: false}, splitLine: {show: false}
  };
  yAxes[i] = {
    type: 'value', gridIndex: i, position: 'left', min: ys.min, max: ys.max,
    axisLine: {show: true, onZero: false, lineStyle: {color: INK, width: 1.5}},
    axisTick: {show: true, inside: true, length: 6, customValues: ys.major, lineStyle: {color: INK, width: 1.5}},
    axisLabel: {show: true, customValues: ys.major, formatter: ys.fmt, margin: p.labelMargin, ...textBase},
    splitLine: {show: false},
    name: leftCol ? 'Current density, {i|j} (mA/cm\u00b2)' : '',
    nameLocation: 'middle', nameGap: 56, nameRotate: 90,
    nameTextStyle: Object.assign({}, textBase, {fontSize: 21.5, padding: [0, 0, 0, 19],
      rich: {i: {fontFamily: FONT, fontSize: 21.5, fontStyle: 'italic', color: INK}}})
  };
  yAxes[i + 6] = {
    type: 'value', gridIndex: i, position: 'left', min: ys.min, max: ys.max,
    axisLine: {show: false, onZero: false},
    axisTick: {show: true, inside: true, length: 3, customValues: ys.minor, lineStyle: {color: INK, width: 1.5}},
    axisLabel: {show: false}, splitLine: {show: false}
  };

  p.names.forEach((name, k) => {
    const m = Object.assign({}, MARKERS[name], (p.symbolOverride || {})[name] || {});
    const s = {
      type: 'scatter', name, xAxisIndex: i, yAxisIndex: i, data: p.data[k],
      symbol: m.symbol, symbolSize: m.size, clip: true, silent: true,
      itemStyle: {color: 'rgba(255,255,255,0)', borderColor: m.color, borderWidth: m.line},
      z: 2 + k
    };
    if (k === 0) {
      s.markLine = {
        silent: true, symbol: 'none', label: {show: false}, animation: false,
        lineStyle: {color: '#5a5a5a', type: [3, 2.5], width: 1.4},
        data: [{yAxis: ys.ref}]
      };
    }
    series.push(s);
  });

  titles.push({
    text: PANEL_TITLES[i], left: p.grid.left + p.titleDx, top: p.grid.top + 8.2, padding: 0,
    textStyle: {fontFamily: FONT, fontSize: 21, fontWeight: 'normal', color: INK}
  });

  const spot = LEGEND_SPOTS[i];
  legends.push({
    orient: 'vertical', left: spot.left, top: spot.top - 10, padding: 0,
    itemWidth: 11, itemHeight: 11, itemGap: spot.pitch - 20, selectedMode: false,
    textStyle: {fontFamily: FONT, fontSize: 21, color: INK, lineHeight: 20},
    data: p.names.map(n => ({
      name: n, icon: MARKERS[n].symbol,
      itemStyle: {color: 'rgba(255,255,255,0)', borderColor: MARKERS[n].color, borderWidth: 1.8}
    }))
  });
});

const chart = echarts.init(document.getElementById('chart'), null, {renderer: 'canvas'});
chart.setOption({
  animation: false,
  backgroundColor: '#fff',
  title: titles,
  legend: legends,
  grid: grids,
  xAxis: xAxes,
  yAxis: yAxes,
  series
});

// call-out arrows and their value labels, positioned through the panel scales
const overlay = [];
NOTES.forEach(n => {
  const finder = {xAxisIndex: n.panel, yAxisIndex: n.panel};
  const a = chart.convertToPixel(finder, n.tail);
  const b = chart.convertToPixel(finder, n.tip);
  const t = chart.convertToPixel(finder, n.label);
  const dx = b[0] - a[0], dy = b[1] - a[1], len = Math.hypot(dx, dy) || 1;
  const ux = dx / len, uy = dy / len, hw = n.head * 0.42;
  const bx = b[0] - ux * n.head, by = b[1] - uy * n.head;
  overlay.push({type: 'line', silent: true, z: 100,
    shape: {x1: a[0], y1: a[1], x2: bx + ux, y2: by + uy},
    style: {stroke: n.arrow, lineWidth: n.lw}});
  overlay.push({type: 'polygon', silent: true, z: 100,
    shape: {points: [[b[0], b[1]], [bx - uy * hw, by + ux * hw], [bx + uy * hw, by - ux * hw]]},
    style: {fill: n.arrow}});
  overlay.push({type: 'text', silent: true, z: 100, x: t[0], y: t[1],
    style: {text: n.text, fill: n.color, font: '21px ' + FONT,
            align: 'center', verticalAlign: 'middle', textAlign: 'center', textVerticalAlign: 'middle'}});
});
chart.setOption({graphic: overlay});
</script>
</body>
</html>
